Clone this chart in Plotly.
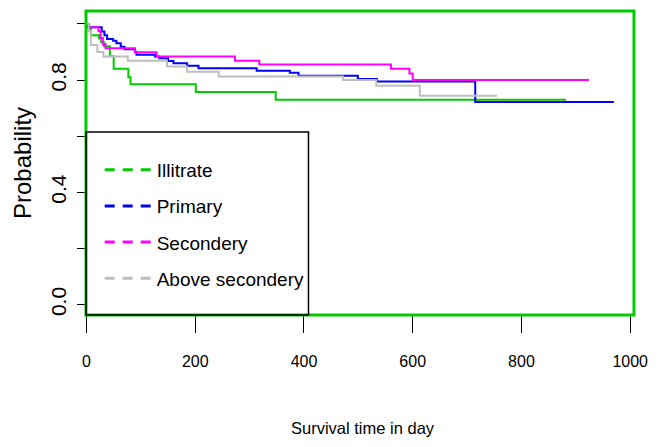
import plotly.graph_objects as go

# Kaplan-Meier step estimates by education level (time in days, survival probability)
groups = ["Illitrate", "Primary", "Secondery", "Above secondery"]
colors = ["#00CC00", "#0000FF", "#FF00FF", "#BEBEBE"]

illit_t = [0, 5, 8, 23, 27, 32, 43, 50, 77, 81, 201, 348, 882]
illit_s = [1.0, 0.985, 0.96, 0.948, 0.936, 0.92, 0.885, 0.84, 0.81, 0.785, 0.757, 0.73, 0.73]

prim_t = [0, 3, 28, 33, 38, 49, 55, 63, 70, 89, 92, 126, 134, 150, 160, 185, 206, 313, 374, 390, 499, 534, 715, 970]
prim_s = [1.0, 0.988, 0.973, 0.96, 0.946, 0.94, 0.931, 0.919, 0.91, 0.901, 0.89, 0.884, 0.878, 0.868, 0.86,
          0.851, 0.842, 0.833, 0.826, 0.815, 0.804, 0.795, 0.722, 0.722]

sec_t = [0, 3, 22, 26, 30, 35, 89, 129, 273, 318, 560, 594, 600, 924]
sec_s = [1.0, 0.988, 0.975, 0.95, 0.928, 0.913, 0.899, 0.884, 0.869, 0.855, 0.84, 0.823, 0.80, 0.80]

above_t = [0, 4, 8, 20, 31, 76, 148, 185, 243, 472, 533, 613, 755]
above_s = [1.0, 0.975, 0.925, 0.90, 0.884, 0.869, 0.848, 0.83, 0.813, 0.80, 0.78, 0.744, 0.744]

series_t = [illit_t, prim_t, sec_t, above_t]
series_s = [illit_s, prim_s, sec_s, above_s]

x_ticks = [0, 200, 400, 600, 800, 1000]
y_ticks = [0.0, 0.2, 0.4, 0.6, 0.8, 1.0]
y_tick_text = ["0.0", "", "0.4", "", "0.8", ""]

FONT = "Liberation Sans, Arial, sans-serif"

fig = go.Figure()

# survival curves (solid step lines)
for name, col, t, s in zip(groups, colors, series_t, series_s):
    fig.add_trace(go.Scatter(
        x=t, y=s, mode="lines", line=dict(color=col, width=2, shape="hv"),
        showlegend=False, hoverinfo="skip", name=name,
    ))

# legend keys drawn as dashed lines
for i, (name, col) in enumerate(zip(groups, colors)):
    fig.add_trace(go.Scatter(
        x=[None], y=[None], mode="lines", name=name, legendgroup=f"g{i}",
        line=dict(color=col, width=3, dash="10px,8px"),
    ))

fig.update_layout(
    width=665, height=447,
    margin=dict(l=86, r=31, t=11, b=132),
    paper_bgcolor="white", plot_bgcolor="white",
    showlegend=True,
    legend=dict(
        x=0.025, y=0.54, xanchor="left", yanchor="top",
        bgcolor="rgba(0,0,0,0)", borderwidth=0,
        font=dict(family=FONT, size=19, color="black"),
        itemwidth=47, tracegroupgap=8.5,
    ),
    xaxis=dict(
        range=[-0.9, 1007], tickvals=x_ticks, ticktext=[str(v) for v in x_ticks],
        showgrid=False, zeroline=False, showline=False,
        ticks="outside", ticklen=17, tickwidth=1.3, tickcolor="black",
        tickfont=dict(family=FONT, size=16, color="black"),
        ticklabelstandoff=15,
    ),
    yaxis=dict(
        range=[-0.037, 1.046], tickvals=y_ticks, ticktext=y_tick_text,
        showgrid=False, zeroline=False, showline=False,
        ticks="outside", ticklen=8, tickwidth=1.3, tickcolor="black",
        tickangle=-90,
        tickfont=dict(family=FONT, size=21, color="black"),
        ticklabelstandoff=3,
    ),
    shapes=[
        # plot frame
        dict(type="rect", xref="paper", yref="paper", x0=0, y0=0, x1=1, y1=1,
             line=dict(color="#00CC00", width=3), layer="above"),
        # legend frame
        dict(type="rect", xref="paper", yref="paper", x0=0, y0=0, x1=0.406, y1=0.602,
             line=dict(color="black", width=1.5), layer="above"),
    ],
    annotations=[
        dict(text="Survival time in day", xref="paper", yref="paper",
             x=(363 - 86) / 548, y=(315 - 428) / 304, xanchor="center", yanchor="middle",
             showarrow=False, font=dict(family=FONT, size=16.5, color="black")),
        dict(text="Probability", xref="paper", yref="paper",
             x=(22 - 86) / 548, y=0.5, xanchor="center", yanchor="middle", textangle=-90,
             showarrow=False, font=dict(family=FONT, size=24, color="black")),
    ],
)

fig.write_html("out.html")
